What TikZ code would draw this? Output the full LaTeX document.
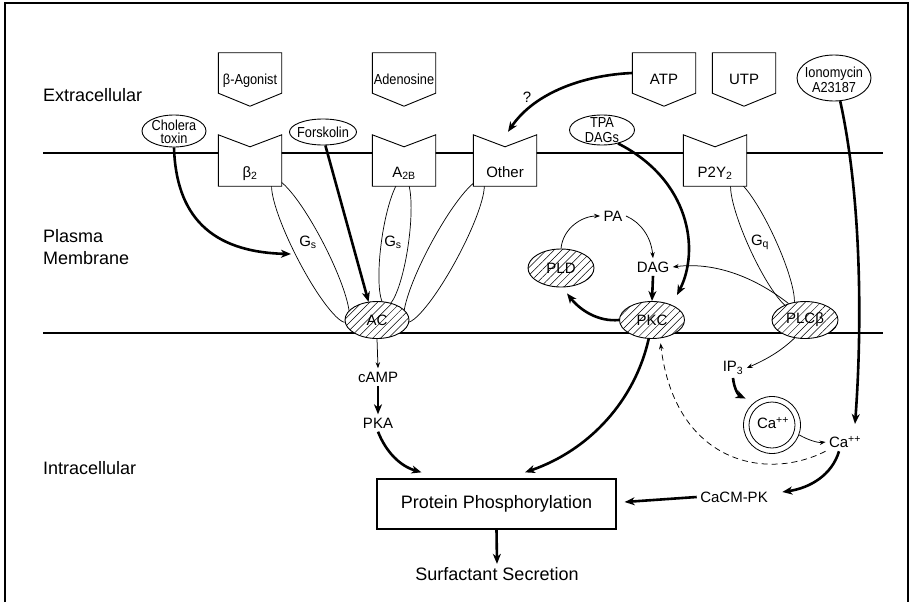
\documentclass[tikz,border=0pt]{standalone}
\usepackage{fontspec}
\setmainfont{Liberation Sans}
\newfontfamily\narrowf[FakeStretch=0.88]{Liberation Sans}
\usetikzlibrary{shapes.geometric,arrows.meta,patterns.meta,calc}
\begin{document}
\begin{tikzpicture}[x=1pt,y=-1pt,
  big/.style={font=\fontsize{18}{22}\selectfont},
  mid/.style={font=\fontsize{15}{17}\selectfont},
  sml/.style={font=\narrowf\fontsize{14.5}{13.5}\selectfont, align=center, inner sep=0pt},
  shp/.style={draw, line width=0.9pt, fill=white},
  recbox/.style={inner sep=0pt, minimum width=63pt, minimum height=51pt},
  ligbox/.style={inner sep=0pt, minimum width=63pt, minimum height=40pt},
  ell/.style={ellipse, draw, line width=0.9pt, fill=white, inner sep=0pt},
  gell/.style={ellipse, draw, line width=0.7pt, inner sep=0pt},
  hatch/.style={ellipse, draw, line width=0.9pt, inner sep=0pt, preaction={fill=white},
     pattern={Lines[angle=45,distance=5.5pt,line width=0.5pt]}},
  thn/.style={line width=0.75pt, -{Stealth[length=6pt,width=4.5pt]}},
  thk/.style={line width=2.6pt, -{Stealth[length=10pt,width=8pt,inset=3pt]}},
]
\useasboundingbox (0,0) rectangle (912,602);
% frame and membrane
\draw[line width=1.2pt] (5,602) -- (5,3) -- (908,3) -- (908,602);
\draw[line width=1.8pt] (43,153) -- (883,153);
\draw[line width=1.8pt] (43,333) -- (883,333);

% G-protein ellipses
\node[gell, minimum width=160pt, minimum height=30pt, rotate=117.2] (gs1) at (310.5,251) {};
\node[gell, minimum width=129pt, minimum height=27pt, rotate=82] (gs2) at (395,242) {};
\node[gell, minimum width=161pt, minimum height=30pt, rotate=61.8] (gs3) at (444,251) {};
\node[gell, minimum width=141pt, minimum height=27pt, rotate=114.7] (gq) at (762.5,244) {};

% receptors
\foreach \nm/\xx in {rb2/250, ra2b/404, other/505, p2y/715}{
  \node[recbox] (\nm) at (\xx,160.5) {};
  \draw[shp] (\nm.north west) -- ([yshift=-12pt]\nm.north) -- (\nm.north east)
     -- (\nm.south east) -- (\nm.south west) -- cycle;
}
\node[mid, anchor=base] (rb2t) at (250,177) {β\textsubscript{2}};
\node[mid, anchor=base] (ra2bt) at (404,177) {A\textsubscript{2B}};
\node[mid, anchor=base] (othert) at (505,177) {Other};
\node[mid, anchor=base] (p2yt) at (715,177) {P2Y\textsubscript{2}};

% ligands
\foreach \nm/\xx in {bag/250, aden/404, atp/664, utp/744}{
  \node[ligbox] (\nm) at (\xx,73) {};
  \draw[shp] (\nm.north west) -- (\nm.north east) -- (\nm.south east)
     -- ([yshift=-13pt]\nm.south) -- (\nm.south west) -- cycle;
}
\node[sml, anchor=base] (bagt) at (250,84) {β-Agonist};
\node[sml, anchor=base] (adent) at (404,84) {Adenosine};
\node[mid, anchor=base] (atpt) at (664,84) {ATP};
\node[mid, anchor=base] (utpt) at (744,84) {UTP};

% drug ellipses
\node[ell, minimum width=64pt, minimum height=32pt] (chol) at (174,131) {};
\node[ell, minimum width=67pt, minimum height=26pt] (forsk) at (323,132) {};
\node[ell, minimum width=65pt, minimum height=30pt] (tpa) at (602,130) {};
\node[ell, minimum width=74pt, minimum height=46pt] (iono) at (834,78) {};
\node[sml] (cholt) at (174,132) {Cholera\\toxin};
\node[sml] (forskt) at (323,132) {Forskolin};
\node[sml] (tpat) at (602,130) {TPA\\[1pt]DAGs};
\node[sml] (ionot) at (834,80) {Ionomycin\\[1.5pt]A23187};

% enzymes
\node[hatch, minimum width=64pt, minimum height=37pt] (ac) at (377,320) {};
\node[hatch, minimum width=65pt, minimum height=37pt] (pkc) at (652,320) {};
\node[hatch, minimum width=66pt, minimum height=37pt] (plc) at (805,320) {};
\node[hatch, minimum width=66pt, minimum height=38pt] (pld) at (561,268) {};
\node[mid] (act) at (377,320) {AC};
\node[mid] (pkct) at (652,320) {PKC};
\node[mid] (plct) at (805,320) {PLCβ};
\node[mid] (pldt) at (561,268) {PLD};

% calcium store
\node[circle, draw, line width=0.8pt, minimum size=57pt, inner sep=0pt] (cas) at (772,425) {};
\node[circle, draw, line width=0.8pt, minimum size=46pt, inner sep=0pt] (casi) at (772,425) {};
\node[mid] (cast) at (773,423) {Ca\textsuperscript{++}};

% text labels
\node[big, anchor=west, inner sep=0pt] (extra) at (43,95) {Extracellular};
\node[big, anchor=west, align=left, inner sep=0pt] (plasma) at (43,247) {Plasma\\Membrane};
\node[big, anchor=west, inner sep=0pt] (intra) at (43,468) {Intracellular};
\node[mid] (q) at (527,97) {?};
\node[mid] (gs1t) at (308,242) {G\textsubscript{s}};
\node[mid] (gs2t) at (393,242) {G\textsubscript{s}};
\node[mid] (gqt) at (760,242) {G\textsubscript{q}};
\node[mid] (pa) at (613,216) {PA};
\node[mid] (dag) at (653,267) {DAG};
\node[mid] (ip3) at (733,368) {IP\textsubscript{3}};
\node[mid] (ca) at (845,442) {Ca\textsuperscript{++}};
\node[mid] (cacm) at (734,497) {CaCM-PK};
\node[mid] (camp) at (378,377) {cAMP};
\node[mid] (pka) at (378,423) {PKA};
\node[draw, line width=1.3pt, minimum width=239pt, minimum height=50pt, big] (box) at (496.5,504) {Protein Phosphorylation};
\node[big] (surf) at (497,574) {Surfactant Secretion};

% free-end coordinates
\coordinate (gs1L) at (291,254);
\coordinate (caTop) at (855,424);

% connectors
\draw[thk] (chol.south) .. controls (176,215) and (210,252) .. (gs1L);
\draw[thk] (forsk.-80) -- (ac.115);
\draw[thk] (atp.west) .. controls (585,75) and (535,92) .. ([shift={(3pt,3pt)}]other.north);
\draw[thk] (tpa.-40) .. controls (690,180) and (700,250) .. ([shift={(25pt,6pt)}]pkc.north);
\draw[thn] (pld.north) .. controls (563,228) and (582,216) .. (pa.west);
\draw[thn] (pa.east) .. controls (640,222) and (651,236) .. (dag.north);
\draw[thk] (dag.south) -- (pkc.north);
\draw[thk] (pkc.west) .. controls (598,322) and (580,310) .. ([shift={(6pt,-6pt)}]pld.south);
\draw[thn] (plc.135) .. controls (752,275) and (712,262) .. (dag.east);
\draw[thn] (plc.-120) .. controls (780,352) and (765,360) .. (ip3.east);
\draw[thk] (ip3.south) .. controls (734,388) and (738,395) .. ([shift={(-6pt,6pt)}]cas.135);
\draw[thn] (cas.-20) .. controls (808,440) and (818,443) .. (ca.west);
\draw[thk] (iono.-75) .. controls (862,200) and (862,330) .. (caTop);
\draw[thn, dash pattern=on 6pt off 4pt] (ca.south west) .. controls (765,482) and (675,462) .. ([yshift=-5pt]pkc.-65);
\draw[thk] ([xshift=-6pt]ca.south) .. controls (832,475) and (810,488) .. ([shift={(11pt,5pt)}]cacm.east);
\draw[thk] (cacm.west) -- ([shift={(8pt,2pt)}]box.east);
\draw[thk] (pkc.-100) .. controls (635,400) and (590,450) .. ([shift={(28.5pt,6pt)}]box.north);
\draw[thn] (ac.south) -- (camp.north);
\draw[thk] (camp.south) -- (pka.north);
\draw[thk] (pka.south) .. controls (386,452) and (400,466) .. ([shift={(-75pt,6pt)}]box.north);
\draw[thk] (box.south) -- (surf.north);
\end{tikzpicture}
\end{document}
